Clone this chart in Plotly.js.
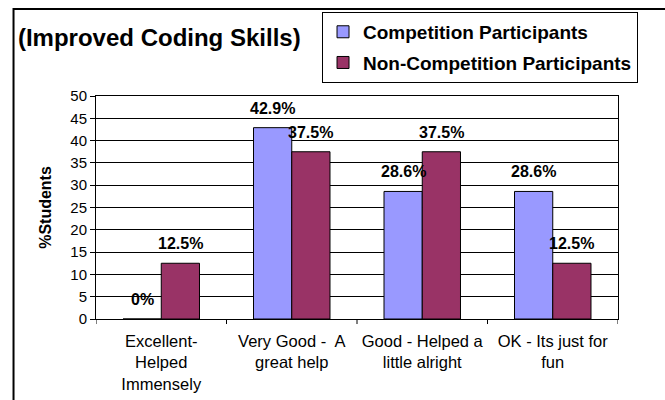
<!DOCTYPE html>
<html>
<head>
<meta charset="utf-8">
<script src="https://cdn.plot.ly/plotly-3.0.1.min.js"></script>
<style>html,body{margin:0;padding:0;background:#fff;}#chart{width:665px;height:400px;}</style>
</head>
<body>
<div id="chart"></div>
<script>
const categories = ["Excellent-<br>Helped<br>Immensely", "Very Good -  A<br>great help", "Good - Helped a<br>little alright", "OK - Its just for<br>fun"];
const competition = [0, 42.9, 28.6, 28.6];
const nonCompetition = [12.5, 37.5, 37.5, 12.5];
const seriesNames = ["Competition Participants", "Non-Competition Participants"];
const yTicks = [0, 5, 10, 15, 20, 25, 30, 35, 40, 45, 50];

const FONT = '"Liberation Sans", Arial, sans-serif';
const BARGAP = 0.414;
const catIdx = categories.map((c, i) => i);

function barTrace(name, values, color, group) {
  return {
    type: 'bar', name: name, x: catIdx, y: values,
    legendgroup: group,
    marker: {color: color, line: {color: '#000', width: 1}},
    hoverinfo: 'skip'
  };
}

const data = [
  barTrace(seriesNames[0], competition, '#9999FF', 'a'),
  barTrace(seriesNames[1], nonCompetition, '#993366', 'b')
];

// value labels: placed on the data scale at each bar's centre
const groupW = 1 - BARGAP;
const labelAnnotations = [];
[competition, nonCompetition].forEach((vals, s) => {
  const off = (s === 0 ? -1 : 1) * groupW / 4;
  vals.forEach((v, i) => {
    labelAnnotations.push({
      xref: 'x', yref: 'y', x: i + off, y: v,
      text: '<b>' + v + '%</b>', showarrow: false,
      xanchor: 'center', yanchor: 'bottom', yshift: 9,
      font: {family: FONT, size: 16, color: '#000'}
    });
  });
});

const layout = {
  width: 665, height: 400,
  margin: {l: 96, r: 47, t: 96, b: 81, autoexpand: false},
  paper_bgcolor: '#fff', plot_bgcolor: '#fff',
  font: {family: FONT, color: '#000'},
  barmode: 'group', bargap: BARGAP, bargroupgap: 0,
  title: {
    text: '<b>(Improved Coding Skills)</b>',
    font: {family: FONT, size: 24, color: '#000'},
    xref: 'container', yref: 'container', x: 0.027, xanchor: 'left', y: 0.905, yanchor: 'middle'
  },
  xaxis: {
    type: 'linear', range: [-0.5, 3.5],
    tickmode: 'array', tickvals: catIdx, ticktext: categories,
    ticks: '', showgrid: false, zeroline: false,
    showline: true, linecolor: '#000', linewidth: 1, mirror: true,
    tickfont: {family: FONT, size: 16.5, color: '#000'},
    ticklabelstandoff: 7,
    automargin: false, fixedrange: true
  },
  yaxis: {
    range: [0, 50], tickmode: 'array', tickvals: yTicks,
    ticks: 'outside', ticklen: 5, tickcolor: '#000', tickwidth: 1,
    showgrid: true, gridcolor: '#000', gridwidth: 1,
    zeroline: false, showline: true, linecolor: '#000', linewidth: 1, mirror: true,
    tickfont: {family: FONT, size: 15, color: '#000'},
    title: {text: '<b>%Students</b>', font: {family: FONT, size: 16, color: '#000'}, standoff: 14},
    automargin: false, fixedrange: true
  },
  showlegend: true,
  legend: {
    x: 0.433, xanchor: 'left', y: 1.377, yanchor: 'top',
    bgcolor: '#fff', bordercolor: '#000', borderwidth: 1,
    font: {family: FONT, size: 19, color: '#000', weight: 'bold'},
    traceorder: 'grouped', tracegroupgap: 3,
    itemclick: false, itemdoubleclick: false
  },
  annotations: labelAnnotations,
  shapes: [
    {type: 'rect', xref: 'paper', yref: 'paper', x0: -0.158, x1: 1.2, y0: -0.5, y1: 1.39,
     line: {color: '#000', width: 2}, fillcolor: 'rgba(0,0,0,0)', layer: 'below'}
  ].concat([0.5, 1.5, 2.5].concat([-0.5, 3.5]).map(v => ({
    type: 'line', xref: 'x', yref: 'paper', x0: v, x1: v, y0: 0, y1: -0.0225,
    line: {color: '#000', width: 1}
  })))
};

Plotly.newPlot('chart', data, layout, {staticPlot: true, displayModeBar: false});
</script>
</body>
</html>
